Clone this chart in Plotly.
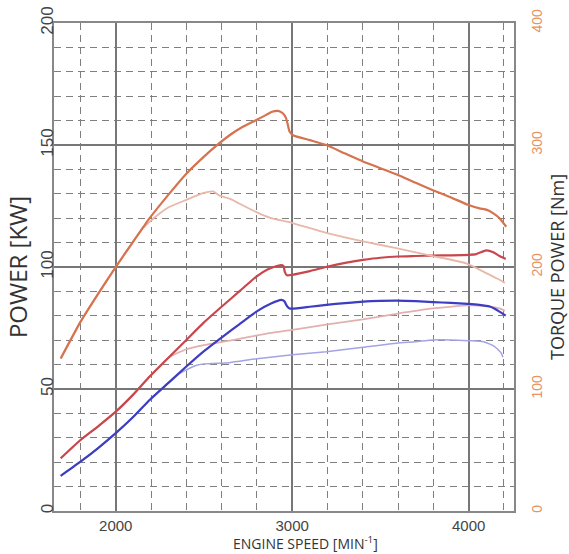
import plotly.graph_objects as go

# ---- data ----
# Main torque curve [Nm] (right axis)
torque_rpm = [1688, 1800, 1900, 2000, 2100, 2192, 2300, 2400, 2500, 2579, 2645, 2720, 2797, 2850,
              2882, 2920, 2947, 2965, 2976, 2985, 3004, 3100, 3193, 3300, 3401, 3500, 3590, 3700,
              3797, 3900, 3996, 4062, 4100, 4140, 4175, 4213]
torque_nm = [125, 155, 178, 200, 221, 240, 259.5, 276.5, 290.5, 300.5, 308, 315, 320.5, 324.5,
             327, 328, 326, 322, 316, 311, 308, 304, 300, 293, 286.5, 281, 276, 269,
             263, 257, 251, 248, 247, 244, 240, 233]

# Light torque curve [Nm] (right axis)
torque2_rpm = [1688, 1800, 1900, 2000, 2100, 2150, 2192, 2250, 2300, 2400, 2494, 2551, 2589, 2645,
               2700, 2797, 2872, 3001, 3193, 3401, 3590, 3797, 3986, 4100, 4175, 4205]
torque2_nm = [125, 155, 178, 200, 221, 231, 237, 244, 249, 255, 260.5, 262, 258.5, 256,
              252, 245, 240.5, 236, 228, 221, 215.5, 209, 203, 195, 189.5, 187]

# Red power curve [kW] (left axis)
red_rpm = [1688, 1800, 1900, 2000, 2100, 2192, 2300, 2400, 2500, 2598, 2700, 2797, 2860, 2929,
           2950, 2958, 2970, 3000, 3100, 3202, 3300, 3401, 3500, 3599, 3700, 3797, 3900, 4000,
           4043, 4100, 4140, 4175, 4210]
red_kw = [21.6, 29.1, 34.7, 40.7, 47.8, 55.1, 62.9, 70.1, 77.3, 83.6, 90, 96.1, 99, 100.7,
          100.5, 98, 96.6, 96.8, 98.3, 100.2, 101.7, 102.9, 103.8, 104.3, 104.5, 104.7, 104.8, 105,
          105.3, 106.8, 106, 104.5, 103.3]

# Light red power curve [kW] (left axis)
pink_rpm = [1688, 1800, 1900, 2000, 2100, 2192, 2300, 2400, 2500, 2645, 2872, 3001, 3200, 3401,
            3590, 3797, 4000, 4100, 4175, 4205]
pink_kw = [21.6, 29.1, 34.7, 40.7, 47.8, 55.1, 62.9, 66.3, 68, 69.8, 72.9, 74.2, 76.5, 78.5,
           80.8, 83, 84.3, 84, 83, 82]

# Blue power curve [kW] (left axis)
blue_rpm = [1688, 1800, 1900, 2000, 2100, 2192, 2300, 2400, 2500, 2607, 2700, 2797, 2880, 2938,
            2955, 2970, 2985, 3000, 3100, 3193, 3300, 3401, 3500, 3590, 3700, 3797, 3900, 3996,
            4060, 4119, 4150, 4175, 4210]
blue_kw = [14.4, 20.2, 25.8, 31.9, 38.6, 45.5, 52.6, 59.2, 65.5, 71.5, 76.5, 81.7, 85, 86.5,
           86, 84, 83, 82.9, 83.7, 84.5, 85.2, 85.8, 86.1, 86.2, 86, 85.6, 85.3, 84.9,
           84.5, 83.8, 82.8, 81.7, 80.1]

# Light blue power curve [kW] (left axis)
lblue_rpm = [1688, 1800, 1900, 2000, 2100, 2192, 2300, 2350, 2400, 2450, 2500, 2550, 2645, 2800,
             3001, 3193, 3401, 3590, 3700, 3797, 3900, 4000, 4085, 4147, 4185, 4194]
lblue_kw = [14.4, 20.2, 25.8, 31.9, 38.6, 45.5, 52.6, 55.9, 57.8, 59.5, 60.3, 60.5, 60.8, 62.4,
            64, 65.3, 67.1, 68.8, 69.4, 70.1, 70.1, 69.8, 69.4, 67.4, 64.7, 63]

x_ticks = [2000, 3000, 4000]
y_ticks = [0, 50, 100, 150, 200]
y2_ticks = [0, 100, 200, 300, 400]

fig = go.Figure()

def add(x, y, color, width, axis="y"):
    fig.add_trace(go.Scatter(x=x, y=y, mode="lines", yaxis=axis,
                             line=dict(color=color, width=width, shape="spline", smoothing=0.5),
                             showlegend=False, hoverinfo="skip"))

add(lblue_rpm, lblue_kw, "#a3a3e6", 1.5)
add(pink_rpm, pink_kw, "#e3b0b0", 1.8)
add(torque2_rpm, torque2_nm, "#e8b8a8", 1.8, "y2")
add(blue_rpm, blue_kw, "#3d3dc2", 2.2)
add(red_rpm, red_kw, "#c9474c", 2.2)
add(torque_rpm, torque_nm, "#d6724e", 2.2, "y2")

grid_major = "#777777"
grid_minor = "#7f7f7f"
tickfont = dict(family="Liberation Sans, Arial, sans-serif", size=17, color="#444444")

fig.update_layout(
    width=569, height=554, autosize=False,
    margin=dict(l=54, r=55, t=23, b=43),
    paper_bgcolor="white", plot_bgcolor="white",
    xaxis=dict(
        range=[1650, 4257], tickvals=x_ticks, ticks="", automargin=False,
        showgrid=True, gridcolor=grid_major, gridwidth=1.5,
        minor=dict(dtick=200, tick0=0, showgrid=True, gridcolor=grid_minor,
                   gridwidth=1, griddash="7px,5px"),
        showline=True, linecolor="#888888", linewidth=1.5, mirror=True,
        zeroline=False, tickfont=dict(family="Liberation Sans, Arial, sans-serif", size=15,
                                      color="#444444"),
        ticklabelstandoff=0,
    ),
    yaxis=dict(
        range=[0, 200], tickvals=y_ticks, ticks="", tickangle=-90, automargin=False,
        showgrid=True, gridcolor=grid_major, gridwidth=1.5,
        minor=dict(dtick=10, tick0=0, showgrid=True, gridcolor=grid_minor,
                   gridwidth=1, griddash="7px,5px"),
        showline=True, linecolor="#888888", linewidth=1.5, mirror=True,
        zeroline=False, tickfont=tickfont, ticklabelstandoff=-8,
        title=dict(text="POWER [KW]",
                   font=dict(family="Open Sans, sans-serif", size=24, color="#333333"),
                   standoff=4),
    ),
    yaxis2=dict(
        range=[0, 400], tickvals=y2_ticks, ticks="", tickangle=-90, automargin=False,
        overlaying="y", side="right", showgrid=False, zeroline=False,
        tickfont=dict(family="Liberation Sans, Arial, sans-serif", size=14, color="#e8925e"),
        ticklabelstandoff=13,
        title=dict(text="TORQUE POWER [Nm]",
                   font=dict(family="Open Sans, sans-serif", size=18, color="#333333"),
                   standoff=6),
    ),
    annotations=[dict(
        text="ENGINE SPEED [MIN<sup>-1</sup>]", xref="paper", yref="paper",
        x=0.5457, y=-0.066, xanchor="center", yanchor="middle", showarrow=False,
        font=dict(family="Open Sans, sans-serif", size=14, color="#333333"),
    )],
)

# remove the page's default body margin so the figure sits at the window's top-left corner
fig.write_html("out.html", config={"displayModeBar": False},
               post_script="document.body.style.margin='0';")
